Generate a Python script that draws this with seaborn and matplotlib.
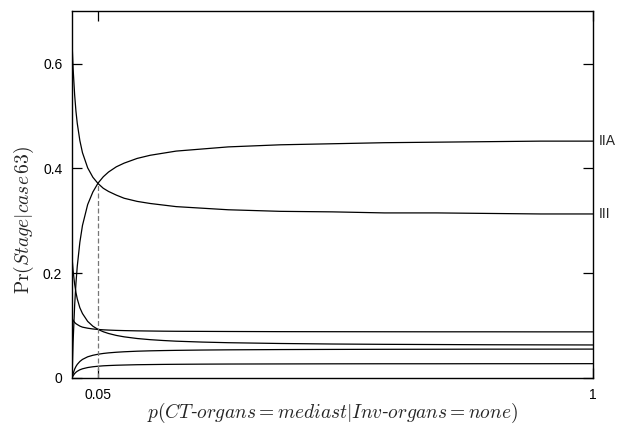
import numpy as np
import pandas as pd
import matplotlib
matplotlib.use("Agg")
import matplotlib.pyplot as plt
import seaborn as sns

# p(CT-organs = mediast | Inv-organs = none)
p_vals = [0, 0.002, 0.005, 0.0075, 0.01, 0.015, 0.02, 0.03, 0.04, 0.05, 0.06, 0.07,
          0.085, 0.1, 0.125, 0.15, 0.175, 0.2, 0.25, 0.3, 0.4, 0.5, 0.6, 0.7, 0.8, 0.9, 1.0]

# posterior Pr(Stage | case 63)
stage_IIA = [0, 0.068, 0.139, 0.181, 0.213, 0.259, 0.291, 0.331, 0.355, 0.372, 0.384, 0.393,
             0.403, 0.410, 0.419, 0.425, 0.429, 0.433, 0.437, 0.441, 0.445, 0.447, 0.449,
             0.450, 0.451, 0.452, 0.452]
stage_III = [0.64, 0.591, 0.540, 0.509, 0.486, 0.453, 0.430, 0.401, 0.383, 0.371, 0.362, 0.356,
             0.349, 0.343, 0.337, 0.333, 0.330, 0.327, 0.324, 0.321, 0.318, 0.317, 0.315,
             0.315, 0.314, 0.313, 0.313]
stage_a = [0.114, 0.110, 0.106, 0.1036, 0.102, 0.099, 0.097, 0.095, 0.0935, 0.0926, 0.0919,
           0.0914, 0.0908, 0.0904, 0.0899, 0.0896, 0.0893, 0.0891, 0.0889, 0.0887, 0.0884,
           0.0883, 0.0882, 0.0881, 0.0881, 0.0880, 0.088]
stage_b = [0.23, 0.205, 0.179, 0.163, 0.151, 0.134, 0.123, 0.108, 0.0988, 0.0926, 0.0882,
           0.0849, 0.0812, 0.0785, 0.0753, 0.0731, 0.0715, 0.0702, 0.0685, 0.0673, 0.0658,
           0.0648, 0.0642, 0.0638, 0.0634, 0.0632, 0.063]
stage_c = [0, 0.0082, 0.0169, 0.022, 0.0259, 0.0315, 0.0354, 0.0404, 0.0433, 0.0453, 0.0468,
           0.0479, 0.0491, 0.05, 0.0511, 0.0518, 0.0523, 0.0527, 0.0533, 0.0537, 0.0542,
           0.0545, 0.0547, 0.0548, 0.055, 0.055, 0.0551]
stage_d = [0, 0.0041, 0.0084, 0.0109, 0.0128, 0.0156, 0.0175, 0.0199, 0.0214, 0.0224, 0.0232,
           0.0237, 0.0243, 0.0247, 0.0253, 0.0256, 0.0259, 0.0261, 0.0264, 0.0266, 0.0268,
           0.027, 0.0271, 0.0271, 0.0272, 0.0272, 0.0273]

series = {"IIA": stage_IIA, "III": stage_III, "a": stage_a,
          "b": stage_b, "c": stage_c, "d": stage_d}
end_labels = ["IIA", "III"]

marker_p = 0.05
marker_top = 0.371

rows = []
for name, vals in series.items():
    for x, y in zip(p_vals, vals):
        rows.append({"p": x, "pr": y, "stage": name})
df = pd.DataFrame(rows)

sns.set_style("ticks")
plt.rcParams["mathtext.fontset"] = "cm"
plt.rcParams["font.family"] = ["Liberation Sans", "DejaVu Sans"]

fig = plt.figure(figsize=(6.32, 4.30), dpi=100)
ax = fig.add_axes([0.114, 0.121, 0.824, 0.853])

sns.lineplot(data=df, x="p", y="pr", hue="stage", estimator=None, sort=False,
             palette={k: "black" for k in series}, linewidth=0.9, legend=False, ax=ax)

ax.vlines(marker_p, 0, marker_top, colors="#777777", linestyles=(0, (4, 2)), linewidth=0.9)

for name in end_labels:
    ax.text(1.012, series[name][-1], name, transform=ax.get_yaxis_transform(),
            va="center", ha="left", fontsize=10)

ax.set_xlim(0, 1)
ax.set_ylim(0, 0.7)
ax.set_xticks([0.05, 1])
ax.set_xticklabels(["0.05", "1"])
ax.set_yticks([0, 0.2, 0.4, 0.6])
ax.set_yticklabels(["0", "0.2", "0.4", "0.6"])
ax.tick_params(direction="in", length=7, width=0.9, top=True, right=True,
               labelsize=10, pad=7, colors="black")
for s in ax.spines.values():
    s.set_linewidth(1.0)
    s.set_color("black")

ax.set_xlabel(r"$p(CT$-$organs = mediast|Inv$-$organs = none)$", fontsize=14)
ax.set_ylabel(r"$\mathrm{Pr}(Stage|case\,63)$", fontsize=14)
ax.xaxis.set_label_coords(0.5, -0.063)
ax.yaxis.set_label_coords(-0.07, 0.43)

fig.savefig("out.png", dpi=100)
